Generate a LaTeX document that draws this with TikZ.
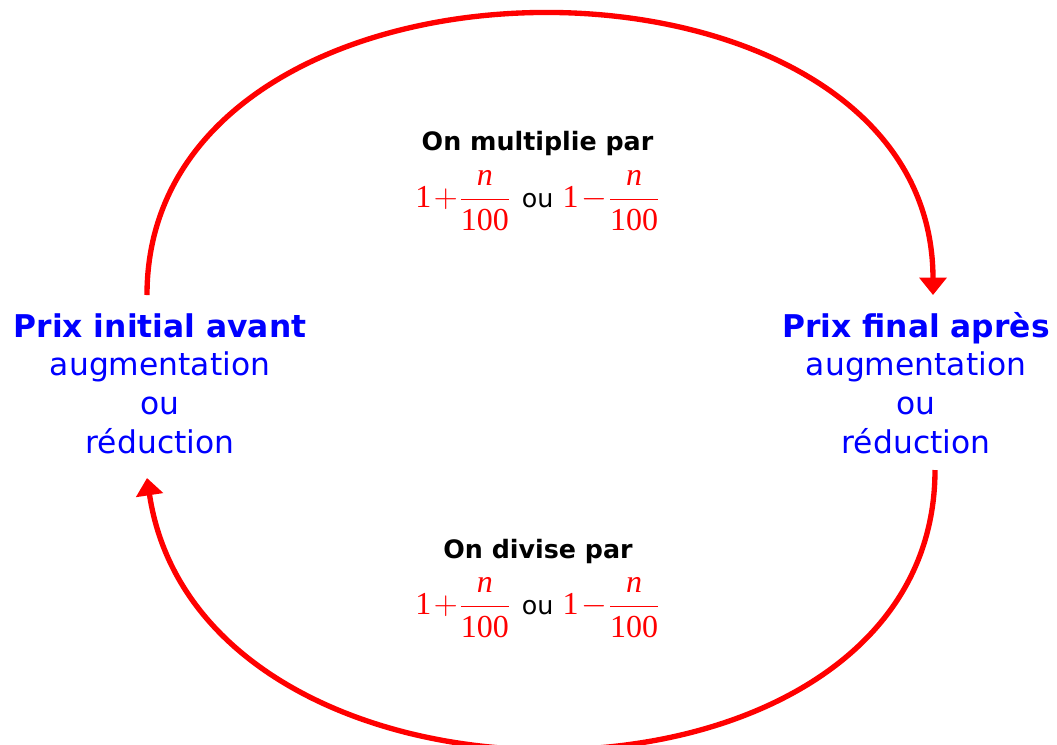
\documentclass[tikz,border=0pt]{standalone}
\usepackage{fontspec}
\newfontfamily\dvs{DejaVu Sans}
\newfontfamily\tms{Liberation Serif}
\usetikzlibrary{arrows.meta}
\definecolor{pred}{RGB}{255,0,0}
\definecolor{pblue}{RGB}{0,0,255}
\newcommand{\pmfrac}[1]{{\color{pred}\tms 1\kern1.8pt$#1$\kern1.2pt$\displaystyle\frac{\hbox{\itshape n}}{\hbox{100}}$}}
\newcommand{\fracrow}{\pmfrac{+}\hspace{8.5pt}{\dvs\fontsize{19}{23}\selectfont ou}\hspace{7pt}\pmfrac{-}}
\begin{document}
\begin{tikzpicture}[x=0.75pt,y=-0.75pt,
  headb/.style={anchor=base, text=pblue, font=\dvs\bfseries\fontsize{23.5}{28}\selectfont, inner sep=0pt},
  subl/.style={anchor=base, text=pblue, font=\dvs\fontsize{23.5}{28}\selectfont, inner sep=0pt},
  optitle/.style={anchor=base, text=black, font=\dvs\bfseries\fontsize{19}{23}\selectfont, inner sep=0pt},
  formula/.style={anchor=base, font=\fontsize{24}{29}\selectfont, inner sep=0pt},
  arcline/.style={draw=pred, line width=4pt, -{Triangle[width=20pt,length=13pt]}}]
\useasboundingbox (0,0) rectangle (1057,744);
\clip (0,0) rectangle (1057,744);
% left block
\node[headb] (l1) at (160,337) {Prix initial avant};
\node[subl] (l2) at (160,375) {augmentation};
\node[subl] (l3) at (160,414) {ou};
\node[subl] (l4) at (160,453) {réduction};
% right block
\node[headb] (r1) at (916,337) {Prix final après};
\node[subl] (r2) at (916,375) {augmentation};
\node[subl] (r3) at (916,414) {ou};
\node[subl] (r4) at (916,453) {réduction};
% centre labels
\node[optitle] (mt) at (537.5,150) {On multiplie par};
\node[formula] (mf) at (537.5,207.5) {\fracrow};
\node[optitle] (dt) at (538,558) {On divise par};
\node[formula] (df) at (537.5,614.5) {\fracrow};
% arc end points
\coordinate (tl) at (147,295);
\coordinate (tr) at (933,295);
\coordinate (br) at (935,470);
\coordinate (bl) at (147,478);
\draw[arcline] (tl) .. controls (147,-79) and (933,-79) .. (tr);
\draw[arcline] (br) .. controls (935,835) and (202,843) .. (bl);
\end{tikzpicture}
\end{document}
